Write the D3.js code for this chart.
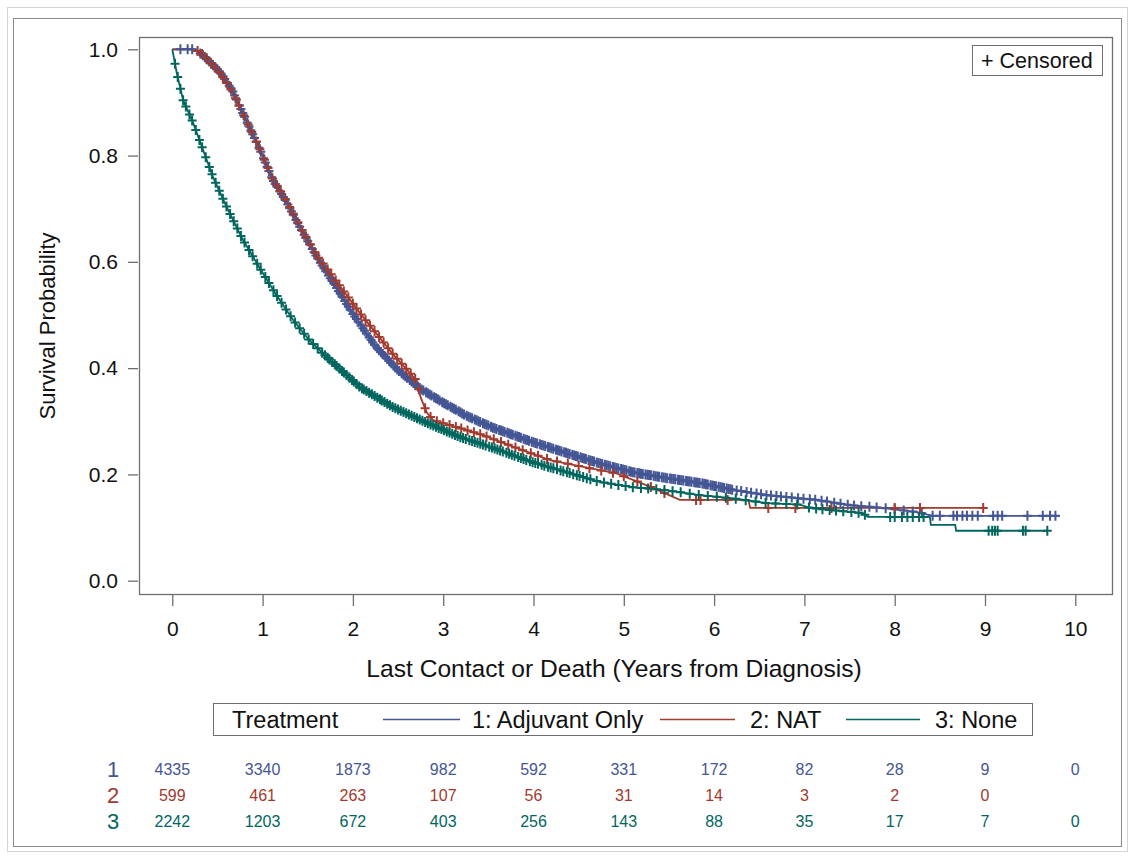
<!DOCTYPE html>
<html><head><meta charset="utf-8">
<script src="https://cdn.jsdelivr.net/npm/d3@7"></script>
<style>body{margin:0;background:#fff} svg{display:block} text{font-family:"Liberation Sans",Arial,sans-serif}</style>
</head><body>
<svg id="c" width="1130" height="856"></svg>
<script>
// ---------------- data ----------------
const seriesNames = ["1: Adjuvant Only", "2: NAT", "3: None"];
const seriesColors = ["#445694", "#A23A2E", "#01665E"];

const adjTimes = [0, 0.23, 0.34, 0.53, 0.66, 0.83, 0.97, 1.11, 1.27, 1.41, 1.60, 1.80, 2.00, 2.25, 2.50, 2.75, 3.00, 3.25, 3.55, 3.99, 4.37, 4.73, 5.10, 5.48, 5.84, 6.21, 6.58, 6.95, 7.14, 7.51, 7.87, 8.25, 8.42, 9.83];
const adjSurv  = [1.0, 1.0, 0.989, 0.957, 0.924, 0.862, 0.811, 0.755, 0.711, 0.666, 0.609, 0.556, 0.502, 0.441, 0.396, 0.361, 0.335, 0.311, 0.288, 0.261, 0.240, 0.221, 0.204, 0.193, 0.184, 0.171, 0.161, 0.155, 0.152, 0.142, 0.137, 0.129, 0.122, 0.122];

const natTimes = [0, 0.25, 0.34, 0.53, 0.66, 0.83, 0.97, 1.11, 1.27, 1.41, 1.60, 1.71, 2.08, 2.44, 2.71, 2.75, 2.82, 2.89, 3.07, 3.44, 3.81, 4.18, 4.55, 4.92, 5.29, 5.62, 6.38, 6.40, 8.98];
const natSurv  = [1.0, 1.0, 0.99, 0.955, 0.922, 0.862, 0.812, 0.757, 0.713, 0.668, 0.612, 0.588, 0.503, 0.427, 0.376, 0.345, 0.316, 0.302, 0.293, 0.274, 0.250, 0.227, 0.214, 0.202, 0.177, 0.152, 0.152, 0.137, 0.137];

const noneTimes = [0, 0.05, 0.12, 0.23, 0.34, 0.45, 0.60, 0.78, 0.97, 1.14, 1.34, 1.52, 1.71, 2.08, 2.44, 2.82, 3.19, 3.55, 3.99, 4.37, 4.73, 5.10, 5.48, 5.84, 6.21, 6.58, 6.95, 7.06, 7.65, 7.70, 8.39, 8.40, 8.67, 8.68, 9.70];
const noneSurv  = [1.0, 0.955, 0.904, 0.862, 0.811, 0.760, 0.704, 0.642, 0.588, 0.541, 0.490, 0.452, 0.421, 0.364, 0.327, 0.297, 0.270, 0.250, 0.223, 0.204, 0.186, 0.176, 0.170, 0.161, 0.155, 0.146, 0.143, 0.137, 0.127, 0.120, 0.120, 0.105, 0.105, 0.094, 0.094];

const adjCensor = [0.09, 0.17, 0.22, 0.31, 0.34, 0.36, 0.38, 0.41, 0.43, 0.45, 0.48, 0.5, 0.52, 0.54, 0.56, 0.58, 0.61, 0.63, 0.65, 0.67, 0.69, 0.71, 0.74, 0.76, 0.78, 0.8, 0.83, 0.85, 0.87, 0.89, 0.91, 0.93, 0.96, 0.98, 1.01, 1.03, 1.05, 1.07, 1.1, 1.12, 1.14, 1.16, 1.19, 1.21, 1.23, 1.25, 1.28, 1.3, 1.32, 1.34, 1.37, 1.39, 1.41, 1.43, 1.46, 1.48, 1.5, 1.52, 1.55, 1.57, 1.59, 1.61, 1.64, 1.66, 1.68, 1.7, 1.73, 1.75, 1.77, 1.79, 1.82, 1.84, 1.86, 1.88, 1.91, 1.93, 1.95, 1.97, 2.0, 2.02, 2.04, 2.06, 2.09, 2.11, 2.13, 2.15, 2.18, 2.2, 2.22, 2.24, 2.27, 2.29, 2.31, 2.33, 2.36, 2.38, 2.4, 2.42, 2.45, 2.47, 2.49, 2.51, 2.54, 2.56, 2.58, 2.6, 2.63, 2.65, 2.67, 2.69, 2.72, 2.74, 2.76, 2.78, 2.81, 2.83, 2.85, 2.87, 2.9, 2.92, 2.94, 2.96, 2.99, 3.01, 3.03, 3.05, 3.08, 3.1, 3.12, 3.14, 3.17, 3.19, 3.21, 3.23, 3.26, 3.28, 3.3, 3.32, 3.35, 3.37, 3.39, 3.41, 3.44, 3.46, 3.48, 3.5, 3.53, 3.55, 3.57, 3.59, 3.62, 3.64, 3.66, 3.68, 3.71, 3.73, 3.75, 3.77, 3.8, 3.82, 3.84, 3.86, 3.89, 3.91, 3.93, 3.95, 3.98, 4.0, 4.02, 4.04, 4.07, 4.09, 4.11, 4.13, 4.16, 4.18, 4.2, 4.22, 4.25, 4.27, 4.29, 4.31, 4.34, 4.36, 4.38, 4.4, 4.43, 4.45, 4.47, 4.49, 4.52, 4.54, 4.56, 4.58, 4.61, 4.63, 4.65, 4.67, 4.7, 4.72, 4.74, 4.76, 4.79, 4.81, 4.83, 4.85, 4.88, 4.9, 4.92, 4.94, 4.97, 4.99, 5.01, 5.03, 5.06, 5.08, 5.1, 5.12, 5.15, 5.17, 5.19, 5.21, 5.24, 5.26, 5.28, 5.3, 5.33, 5.35, 5.37, 5.39, 5.42, 5.44, 5.46, 5.48, 5.51, 5.53, 5.55, 5.57, 5.6, 5.62, 5.64, 5.66, 5.69, 5.71, 5.73, 5.75, 5.78, 5.8, 5.82, 5.84, 5.87, 5.89, 5.91, 5.93, 5.96, 5.98, 6.0, 6.02, 6.05, 6.07, 6.09, 6.11, 6.14, 6.16, 6.18, 6.2, 6.25, 6.3, 6.36, 6.41, 6.47, 6.52, 6.58, 6.63, 6.69, 6.74, 6.8, 6.86, 6.93, 6.99, 7.06, 7.12, 7.19, 7.25, 7.33, 7.4, 7.48, 7.55, 7.63, 7.72, 7.8, 7.9, 8.0, 8.1, 8.2, 8.3, 8.42, 8.5, 8.65, 8.69, 8.75, 8.8, 8.86, 8.92, 9.09, 9.14, 9.19, 9.47, 9.64, 9.72, 9.78];
const natCensor = [0.28, 0.33, 0.38, 0.43, 0.47, 0.52, 0.56, 0.6, 0.65, 0.7, 0.74, 0.79, 0.84, 0.88, 0.93, 0.97, 1.02, 1.06, 1.11, 1.16, 1.2, 1.25, 1.3, 1.34, 1.39, 1.44, 1.48, 1.53, 1.58, 1.62, 1.67, 1.72, 1.76, 1.81, 1.85, 1.9, 1.95, 2.0, 2.04, 2.09, 2.14, 2.19, 2.24, 2.29, 2.34, 2.39, 2.44, 2.49, 2.54, 2.59, 2.64, 2.69, 2.73, 2.8, 2.86, 2.93, 3.0, 3.07, 3.14, 3.2, 3.27, 3.34, 3.41, 3.48, 3.56, 3.64, 3.72, 3.8, 3.88, 3.97, 4.05, 4.15, 4.26, 4.38, 4.5, 4.62, 4.75, 4.88, 5.0, 5.15, 5.3, 5.45, 5.8, 5.85, 6.15, 6.6, 6.9, 7.3, 8.0, 8.28, 8.98];
const noneCensor = [0.03, 0.06, 0.09, 0.12, 0.15, 0.19, 0.22, 0.26, 0.3, 0.33, 0.37, 0.41, 0.44, 0.48, 0.52, 0.56, 0.6, 0.64, 0.68, 0.72, 0.76, 0.8, 0.85, 0.89, 0.94, 0.98, 1.03, 1.07, 1.12, 1.16, 1.21, 1.26, 1.31, 1.36, 1.41, 1.46, 1.51, 1.56, 1.61, 1.66, 1.69, 1.72, 1.74, 1.77, 1.8, 1.82, 1.85, 1.88, 1.9, 1.93, 1.96, 1.99, 2.01, 2.04, 2.07, 2.1, 2.12, 2.15, 2.18, 2.21, 2.24, 2.27, 2.3, 2.32, 2.35, 2.38, 2.41, 2.44, 2.47, 2.5, 2.53, 2.56, 2.59, 2.62, 2.65, 2.68, 2.71, 2.74, 2.77, 2.8, 2.83, 2.86, 2.89, 2.92, 2.95, 2.98, 3.01, 3.04, 3.07, 3.1, 3.13, 3.16, 3.19, 3.22, 3.25, 3.29, 3.32, 3.35, 3.38, 3.41, 3.44, 3.47, 3.51, 3.54, 3.57, 3.6, 3.63, 3.66, 3.7, 3.73, 3.76, 3.79, 3.83, 3.86, 3.89, 3.92, 3.96, 3.99, 4.02, 4.05, 4.09, 4.12, 4.16, 4.19, 4.22, 4.26, 4.3, 4.33, 4.37, 4.4, 4.44, 4.48, 4.51, 4.55, 4.59, 4.63, 4.7, 4.78, 4.86, 4.94, 5.02, 5.1, 5.19, 5.27, 5.36, 5.45, 5.54, 5.63, 5.73, 5.83, 5.93, 6.03, 6.13, 6.24, 6.35, 6.46, 6.57, 6.68, 6.8, 6.92, 7.05, 7.13, 7.2, 7.28, 7.35, 7.43, 7.52, 7.6, 7.67, 7.95, 8.0, 8.08, 8.14, 8.2, 8.27, 8.32, 9.04, 9.08, 9.11, 9.14, 9.42, 9.45, 9.69];

const xTicks = [0, 1, 2, 3, 4, 5, 6, 7, 8, 9, 10];
const yTicks = [0.0, 0.2, 0.4, 0.6, 0.8, 1.0];
const riskTimes = [0, 1, 2, 3, 4, 5, 6, 7, 8, 9, 10];
const riskAdj  = [4335, 3340, 1873, 982, 592, 331, 172, 82, 28, 9, 0];
const riskNat  = [599, 461, 263, 107, 56, 31, 14, 3, 2, 0];
const riskNone = [2242, 1203, 672, 403, 256, 143, 88, 35, 17, 7, 0];
const riskLabels = ["1", "2", "3"];

// ---------------- chart ----------------
const svg = d3.select("#c");
const plot = {l: 139, t: 37, r: 1112, b: 594};
const x = d3.scaleLinear().domain([0, 10]).range([172.3, 1075.3]);
const y = d3.scaleLinear().domain([0, 1]).range([580.7, 49.3]);

// frames
svg.append("rect").attr("x", 7.5).attr("y", 7.5).attr("width", 1120).attr("height", 844)
  .attr("fill", "none").attr("stroke", "#d4d4d4");
svg.append("rect").attr("x", 13.5).attr("y", 18.5).attr("width", 1108).attr("height", 828)
  .attr("fill", "none").attr("stroke", "#8a8a8a");
svg.append("rect").attr("x", plot.l + 0.5).attr("y", plot.t + 0.5)
  .attr("width", plot.r - plot.l).attr("height", plot.b - plot.t)
  .attr("fill", "#fff").attr("stroke", "#6e6e6e").attr("stroke-width", 1.3);

// axes
const yAxis = svg.append("g").attr("transform", "translate(138,0)")
  .call(d3.axisLeft(y).tickValues(yTicks).tickFormat(d3.format(".1f")).tickSize(10).tickPadding(10));
const xAxis = svg.append("g").attr("transform", "translate(0,595)")
  .call(d3.axisBottom(x).tickValues(xTicks).tickFormat(d3.format("d")).tickSize(11).tickPadding(15));
[yAxis, xAxis].forEach(g => {
  g.select(".domain").remove();
  g.selectAll(".tick line").attr("stroke", "#6e6e6e").attr("stroke-width", 1.3);
  g.selectAll(".tick text").attr("fill", "#111").style("font-size", "21px");
});

svg.append("text").attr("x", 614).attr("y", 677).attr("text-anchor", "middle")
  .style("font-size", "24.6px").attr("fill", "#111")
  .text("Last Contact or Death (Years from Diagnosis)");
svg.append("text").attr("transform", "translate(55,326) rotate(-90)").attr("text-anchor", "middle")
  .style("font-size", "22px").attr("fill", "#111").text("Survival Probability");

// curves
const series = [
  {times: adjTimes, surv: adjSurv, censor: adjCensor, color: seriesColors[0]},
  {times: natTimes, surv: natSurv, censor: natCensor, color: seriesColors[1]},
  {times: noneTimes, surv: noneSurv, censor: noneCensor, color: seriesColors[2]}
];
svg.append("clipPath").attr("id", "clip").append("rect")
  .attr("x", plot.l).attr("y", plot.t).attr("width", plot.r - plot.l).attr("height", plot.b - plot.t);
const gPlot = svg.append("g").attr("clip-path", "url(#clip)");
const line = d3.line().x(d => x(d[0])).y(d => y(d[1]));
series.forEach(s => {
  gPlot.append("path").datum(s.times.map((t, i) => [t, s.surv[i]]))
    .attr("d", line).attr("fill", "none").attr("stroke", s.color).attr("stroke-width", 1.8);
});
function survAt(times, surv, t) {
  const i = d3.bisectRight(times, t);
  if (i <= 0) return surv[0];
  if (i >= times.length) return surv[surv.length - 1];
  const t0 = times[i - 1], t1 = times[i];
  const f = t1 === t0 ? 0 : (t - t0) / (t1 - t0);
  return surv[i - 1] + f * (surv[i] - surv[i - 1]);
}
series.forEach(s => {
  gPlot.selectAll(null).data(s.censor).enter().append("path")
    .attr("transform", d => `translate(${x(d)},${y(survAt(s.times, s.surv, d))})`)
    .attr("d", "M-4.5,0H4.5M0,-5V5").attr("fill", "none")
    .attr("stroke", s.color).attr("stroke-width", 2);
});

// censored legend
svg.append("rect").attr("x", 972.5).attr("y", 45.5).attr("width", 130).attr("height", 30)
  .attr("fill", "#fff").attr("stroke", "#6e6e6e");
svg.append("text").attr("x", 981).attr("y", 67.5).style("font-size", "21.5px").attr("fill", "#111").text("+ Censored");

// legend
svg.append("rect").attr("x", 213.5).attr("y", 703.5).attr("width", 819).attr("height", 32)
  .attr("fill", "#fff").attr("stroke", "#6e6e6e");
svg.append("text").attr("x", 232).attr("y", 728).style("font-size", "23.5px").attr("fill", "#111").text("Treatment");
const legX = [[383, 460, 472], [660, 735, 750], [846, 920, 935]];
seriesNames.forEach((n, i) => {
  svg.append("line").attr("x1", legX[i][0]).attr("x2", legX[i][1]).attr("y1", 719.5).attr("y2", 719.5)
    .attr("stroke", seriesColors[i]).attr("stroke-width", 1.7);
  svg.append("text").attr("x", legX[i][2]).attr("y", 728).style("font-size", "23.5px").attr("fill", "#111").text(n);
});

// at-risk table
const riskRows = [riskAdj, riskNat, riskNone];
const rowY = [769, 795, 821];
riskRows.forEach((row, r) => {
  svg.append("text").attr("x", 113).attr("y", rowY[r]).attr("dy", "0.36em").attr("text-anchor", "middle")
    .style("font-size", "22px").attr("fill", seriesColors[r]).text(riskLabels[r]);
  svg.selectAll(null).data(row).enter().append("text")
    .attr("x", (d, i) => x(riskTimes[i])).attr("y", rowY[r]).attr("dy", "0.36em")
    .attr("text-anchor", "middle").style("font-size", "16px").attr("fill", seriesColors[r])
    .text(d => d);
});
</script>
</body></html>
